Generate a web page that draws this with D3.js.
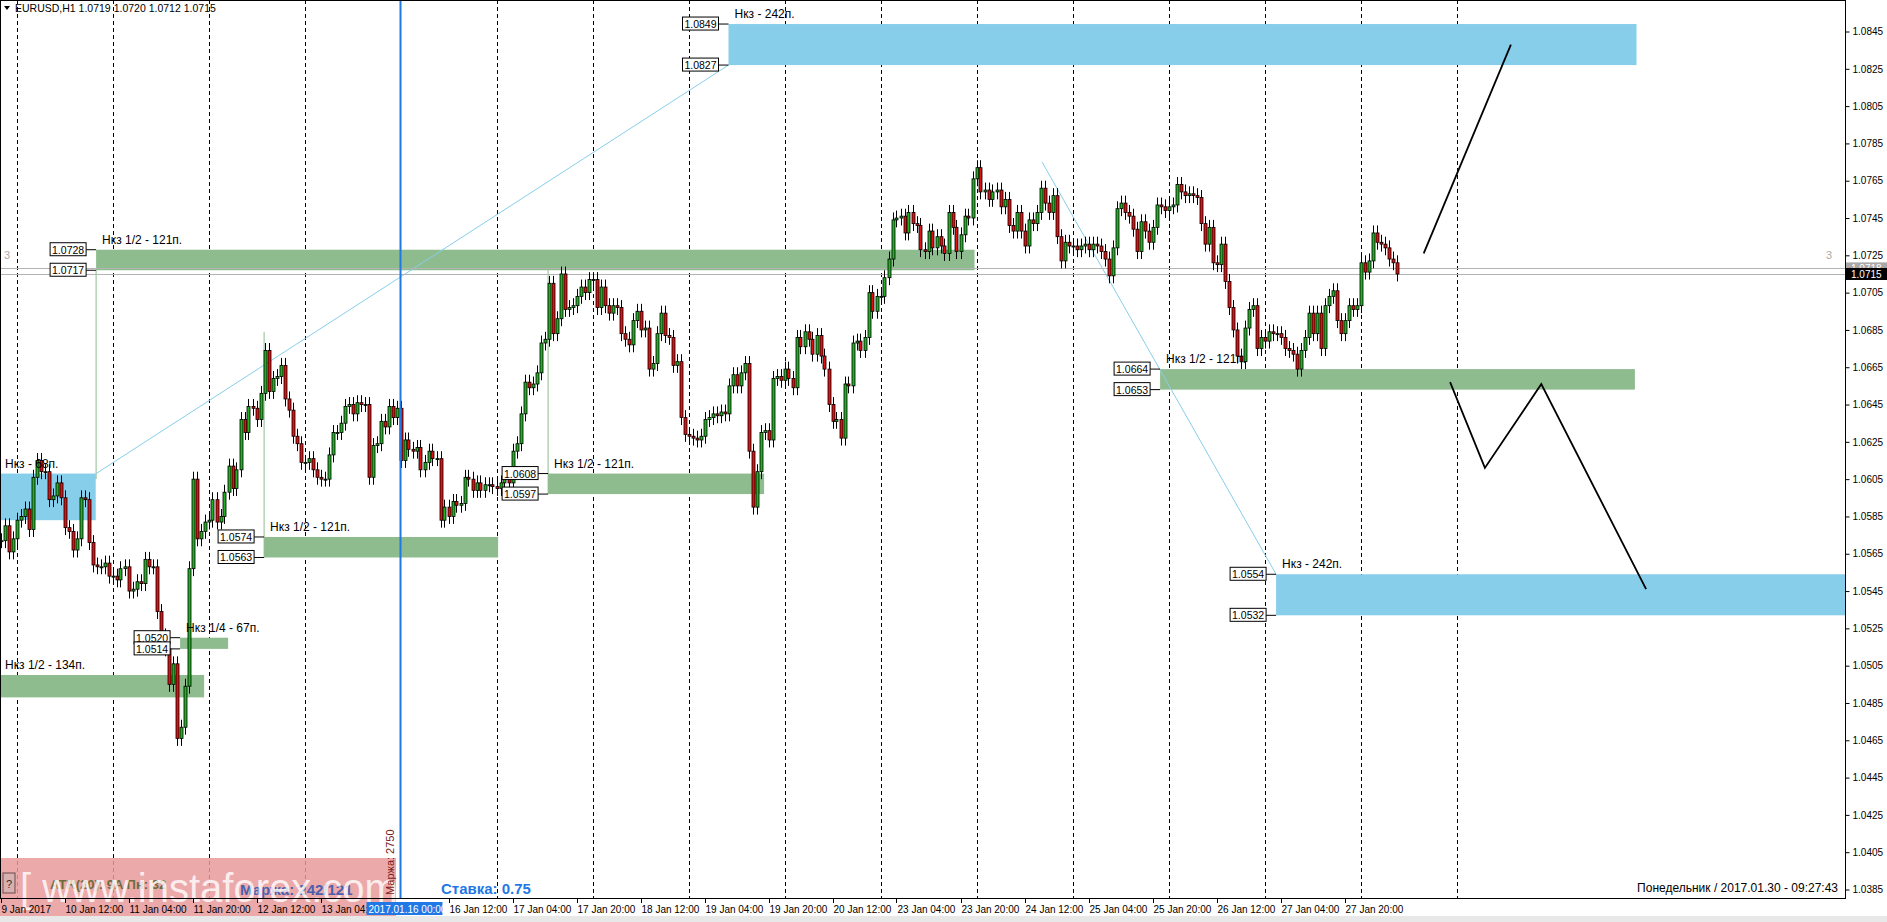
<!DOCTYPE html>
<html>
<head>
<meta charset="utf-8">
<script src="https://cdnjs.cloudflare.com/ajax/libs/d3/7.8.5/d3.min.js"></script>
<style>
  body { margin: 0; background: #fff; }
  svg { display: block; font-family: "Liberation Sans", Arial, sans-serif; }
</style>
</head>
<body>
<svg id="chart" width="1887" height="922"></svg>
<script>
// hourly closes, EURUSD H1, from 9 Jan 20:00 (bar 20) to 30 Jan 09:00
var firstBar = 20;
var closes = [
  1.0572,1.0580,1.0566,1.0573,
  // 10 Jan
  1.0583,1.0585,1.0589,1.0578,1.0606,1.0615,1.0609,1.0609,1.0594,1.0596,1.0603,1.0595,
  1.0579,1.0577,1.0567,1.0573,1.0595,1.0594,1.0571,1.0559,1.0558,1.0558,1.0560,1.0553,
  // 11 Jan
  1.0553,1.0551,1.0557,1.0558,1.0545,1.0546,1.0550,1.0549,1.0562,1.0558,1.0558,1.0534,
  1.0521,1.0514,1.0495,1.0506,1.0466,1.0472,1.0494,1.0557,1.0605,1.0573,1.0577,1.0582,
  // 12 Jan
  1.0583,1.0594,1.0582,1.0585,1.0598,1.0612,1.0600,1.0610,1.0637,1.0630,1.0644,1.0643,
  1.0637,1.0651,1.0674,1.0652,1.0659,1.0660,1.0666,1.0648,1.0642,1.0628,1.0624,1.0614,
  // 13 Jan
  1.0614,1.0616,1.0610,1.0606,1.0605,1.0605,1.0618,1.0630,1.0630,1.0635,1.0644,1.0645,
  1.0640,1.0646,1.0645,1.0645,1.0606,1.0623,1.0624,1.0636,1.0633,1.0644,1.0638,1.0643,
  // 16 Jan
  1.0615,1.0626,1.0621,1.0620,1.0622,1.0610,1.0614,1.0620,1.0616,1.0616,1.0583,1.0590,
  1.0585,1.0593,1.0591,1.0592,1.0606,1.0605,1.0599,1.0603,1.0599,1.0602,1.0602,1.0601,
  // 17 Jan
  1.0600,1.0603,1.0606,1.0603,1.0620,1.0624,1.0640,1.0657,1.0654,1.0656,1.0662,1.0678,
  1.0680,1.0710,1.0683,1.0691,1.0715,1.0696,1.0697,1.0698,1.0703,1.0708,1.0705,1.0712,
  // 18 Jan
  1.0712,1.0697,1.0708,1.0698,1.0694,1.0698,1.0697,1.0683,1.0680,1.0677,1.0690,1.0695,
  1.0685,1.0686,1.0664,1.0667,1.0683,1.0694,1.0682,1.0681,1.0666,1.0668,1.0638,1.0629,
  // 19 Jan
  1.0628,1.0627,1.0626,1.0628,1.0637,1.0638,1.0640,1.0639,1.0641,1.0640,1.0655,1.0661,
  1.0655,1.0662,1.0667,1.0620,1.0590,1.0609,1.0630,1.0631,1.0626,1.0659,1.0660,1.0658,
  // 20 Jan
  1.0664,1.0659,1.0654,1.0681,1.0676,1.0684,1.0680,1.0672,1.0682,1.0671,1.0664,1.0645,
  1.0636,1.0637,1.0627,1.0656,1.0655,1.0678,1.0679,1.0674,1.0681,1.0705,1.0695,1.0703,
  // 23 Jan
  1.0703,1.0713,1.0723,1.0744,1.0745,1.0746,1.0737,1.0748,1.0742,1.0741,1.0728,1.0727,
  1.0738,1.0729,1.0735,1.0730,1.0726,1.0748,1.0740,1.0727,1.0736,1.0746,1.0745,1.0766,
  // 24 Jan
  1.0772,1.0759,1.0760,1.0755,1.0759,1.0760,1.0751,1.0755,1.0741,1.0738,1.0748,1.0738,
  1.0730,1.0744,1.0742,1.0748,1.0761,1.0753,1.0748,1.0757,1.0735,1.0722,1.0732,1.0730,
  // 25 Jan
  1.0730,1.0728,1.0730,1.0731,1.0728,1.0731,1.0730,1.0727,1.0723,1.0714,1.0729,1.0750,
  1.0753,1.0748,1.0746,1.0739,1.0727,1.0743,1.0738,1.0732,1.0740,1.0752,1.0751,1.0749,
  // 26 Jan
  1.0751,1.0752,1.0763,1.0759,1.0757,1.0758,1.0757,1.0756,1.0742,1.0731,1.0740,1.0721,
  1.0720,1.0731,1.0711,1.0697,1.0685,1.0671,1.0668,1.0686,1.0696,1.0698,1.0675,1.0681,
  // 27 Jan
  1.0679,1.0684,1.0683,1.0683,1.0681,1.0675,1.0674,1.0672,1.0664,1.0674,1.0681,1.0694,
  1.0683,1.0694,1.0675,1.0698,1.0703,1.0706,1.0690,1.0683,1.0690,1.0698,1.0696,1.0698,
  // 30 Jan
  1.0721,1.0716,1.0722,1.0737,1.0732,1.0731,1.0729,1.0723,1.0721,1.0715
];
var wick = 0.0004;

// day separators (bar index), the 16 Jan one is the blue marker
var separators = [24,48,72,96,120,144,168,192,216,240,264,288,312,336,360,384];
var markerBar = 120;

var timeTicks = [
  [20,'9 Jan 2017'],[36,'10 Jan 12:00'],[52,'11 Jan 04:00'],[68,'11 Jan 20:00'],
  [84,'12 Jan 12:00'],[100,'13 Jan 04:00'],[132,'16 Jan 12:00'],[148,'17 Jan 04:00'],
  [164,'17 Jan 20:00'],[180,'18 Jan 12:00'],[196,'19 Jan 04:00'],[212,'19 Jan 20:00'],
  [228,'20 Jan 12:00'],[244,'23 Jan 04:00'],[260,'23 Jan 20:00'],[276,'24 Jan 12:00'],
  [292,'25 Jan 04:00'],[308,'25 Jan 20:00'],[324,'26 Jan 12:00'],[340,'27 Jan 04:00'],
  [356,'27 Jan 20:00']
];
var priceTicks = d3.range(1.0385, 1.0846, 0.002);

// zones: [fromBar, toBar, top, bottom, kind, label, showPriceBoxes]
var zones = [
  [202, 429, 1.0849, 1.0827, 'blue', 'Нкз - 242п.', true],
  [43.9, 263.5, 1.0728, 1.0717, 'green', 'Нкз 1/2 - 121п.', true],
  [15, 43.8, 1.0608, 1.0583, 'blue', 'Нкз - 68п.', false],
  [85.9, 144.4, 1.0574, 1.0563, 'green', 'Нкз 1/2 - 121п.', true],
  [156.9, 210.9, 1.0608, 1.0597, 'green', 'Нкз 1/2 - 121п.', true],
  [64.9, 76.9, 1.0520, 1.0514, 'green', 'Нкз 1/4 - 67п.', true],
  [15, 70.9, 1.0500, 1.0488, 'green', 'Нкз 1/2 - 134п.', false],
  [309.9, 428.6, 1.0664, 1.0653, 'green', 'Нкз 1/2 - 121п.', true],
  [338.9, 500, 1.0554, 1.0532, 'blue', 'Нкз - 242п.', true]
];
// thin vertical stems from zone edges: [bar, fromPrice, toPrice]
var stems = [[43.9, 1.0717, 1.0605], [85.9, 1.0563, 1.0684], [156.9, 1.0597, 1.0718]];
// light blue trend lines: [[bar, price], [bar, price]]
var trendLines = [
  [[43.9, 1.0608], [202, 1.0827]],
  [[280.4, 1.0775], [338.9, 1.0554]]
];
// hand-drawn forecast paths
var forecastUp = [[375.8, 1.0726], [397.6, 1.0838]];
var forecastDown = [[382.4, 1.0657], [391.1, 1.0611], [405.2, 1.0656], [431.4, 1.0546]];

var bidPrice = 1.0715, askPrice = 1.0718;

var svg = d3.select('#chart');
var plotRight = 1845, plotBottom = 898;

var x = d3.scaleLinear().domain([24, 120]).range([16.5, 400.5]);
var y = d3.scaleLinear().domain([1.0845, 1.0385]).range([31.5, 889.5]);

svg.append('clipPath').attr('id', 'plot')
  .append('rect').attr('width', plotRight).attr('height', plotBottom);

var plot = svg.append('g').attr('clip-path', 'url(#plot)');

// separators
plot.selectAll('.sep').data(separators.filter(function(d) { return d !== markerBar; }))
  .enter().append('line')
  .attr('x1', function(d) { return Math.round(x(d)) + 0.5; })
  .attr('x2', function(d) { return Math.round(x(d)) + 0.5; })
  .attr('y1', 0).attr('y2', plotBottom)
  .attr('stroke', '#000').attr('stroke-dasharray', '4,3');

// zones
zones.forEach(function(z) {
  var fill = z[4] === 'blue' ? '#87ceeb' : '#8fbc8f';
  plot.append('rect')
    .attr('x', x(z[0])).attr('y', y(z[2]))
    .attr('width', x(z[1]) - x(z[0])).attr('height', y(z[3]) - y(z[2]))
    .attr('fill', fill);
});

stems.forEach(function(s) {
  plot.append('line')
    .attr('x1', x(s[0])).attr('x2', x(s[0]))
    .attr('y1', y(s[1])).attr('y2', y(s[2]))
    .attr('stroke', '#8fbc8f');
});

trendLines.forEach(function(t) {
  plot.append('line')
    .attr('x1', x(t[0][0])).attr('y1', y(t[0][1]))
    .attr('x2', x(t[1][0])).attr('y2', y(t[1][1]))
    .attr('stroke', '#87ceeb');
});

// bid / ask lines
[askPrice, bidPrice].forEach(function(p) {
  plot.append('line').attr('x1', 0).attr('x2', plotRight)
    .attr('y1', Math.round(y(p)) + 0.5).attr('y2', Math.round(y(p)) + 0.5)
    .attr('stroke', '#b4b4b4');
});

// candles
var candles = closes.map(function(c, i) {
  var o = i ? closes[i - 1] : c;
  return { bar: firstBar + i, o: o, c: c,
    h: Math.max(o, c) + wick, l: Math.min(o, c) - wick };
});
var cg = plot.append('g');
cg.selectAll('.wick').data(candles).enter().append('line')
  .attr('x1', function(d) { return Math.round(x(d.bar)) + 0.5; })
  .attr('x2', function(d) { return Math.round(x(d.bar)) + 0.5; })
  .attr('y1', function(d) { return y(d.h); })
  .attr('y2', function(d) { return y(d.l); })
  .attr('stroke', '#000');
cg.selectAll('.body').data(candles).enter().append('rect')
  .attr('x', function(d) { return Math.round(x(d.bar)) - 1; })
  .attr('width', 3)
  .attr('y', function(d) { return y(Math.max(d.o, d.c)); })
  .attr('height', function(d) { return Math.max(1, Math.abs(y(d.o) - y(d.c))); })
  .attr('fill', function(d) { return d.c >= d.o ? '#22b022' : '#e01010'; })
  .attr('stroke', '#000').attr('stroke-width', 0.8);

// forecast
var line = d3.line().x(function(d) { return x(d[0]); }).y(function(d) { return y(d[1]); });
[forecastUp, forecastDown].forEach(function(f) {
  plot.append('path').attr('d', line(f)).attr('fill', 'none')
    .attr('stroke', '#000').attr('stroke-width', 1.8);
});

// zone labels and price boxes
zones.forEach(function(z) {
  var x0 = x(z[0]);
  plot.append('text').attr('x', x0 < 10 ? 5 : x0 + 6).attr('y', y(z[2]) - 6)
    .attr('font-size', 12).attr('fill', '#000').text(z[5]);
  if (!z[6]) return;
  [z[2], z[3]].forEach(function(p) {
    var by = y(p);
    plot.append('line').attr('x1', x0 - 10).attr('x2', x0).attr('y1', by).attr('y2', by)
      .attr('stroke', '#000');
    plot.append('rect').attr('x', x0 - 46).attr('y', by - 7).attr('width', 36).attr('height', 13)
      .attr('fill', '#fff').attr('stroke', '#000');
    plot.append('text').attr('x', x0 - 28).attr('y', by + 4).attr('text-anchor', 'middle')
      .attr('font-size', 10.5).text(p.toFixed(4));
  });
});

// blue marker line
plot.append('line').attr('x1', x(markerBar)).attr('x2', x(markerBar))
  .attr('y1', 0).attr('y2', plotBottom).attr('stroke', '#1f78e6').attr('stroke-width', 2);

// small "3" marks
plot.append('text').attr('x', 4).attr('y', y(1.0725) + 4).attr('font-size', 11).attr('fill', '#aaa').text('3');
plot.append('text').attr('x', 1826).attr('y', y(1.0725) + 4).attr('font-size', 11).attr('fill', '#aaa').text('3');

// title
svg.append('path').attr('d', 'M4,6 L10,6 L7,10 Z').attr('fill', '#000');
svg.append('text').attr('x', 15).attr('y', 12).attr('font-size', 10.5)
  .text('EURUSD,H1  1.0719 1.0720 1.0712 1.0715');

// bottom overlay
var ov = svg.append('g');
ov.append('rect').attr('x', 0).attr('y', 858).attr('width', 396).attr('height', 64)
  .attr('fill', '#e89a9a').attr('opacity', 0.85);
ov.append('rect').attr('x', 3).attr('y', 873).attr('width', 12).attr('height', 20)
  .attr('fill', '#d9b0b0').attr('stroke', '#6a4a4a');
ov.append('text').attr('x', 9).attr('y', 888).attr('text-anchor', 'middle').attr('font-size', 11)
  .attr('fill', '#333').text('?');
ov.append('text').attr('x', 50).attr('y', 889).attr('font-size', 13).attr('font-weight', 'bold')
  .attr('fill', '#6b6b3a').text('ATR(20): 9A  Пн: 32');
ov.append('text').attr('x', 240).attr('y', 895).attr('font-size', 15).attr('font-weight', 'bold')
  .attr('fill', '#4a5fb0').text('Маржа: 242/121');
ov.append('text').attr('x', 20).attr('y', 902).attr('font-size', 40)
  .attr('fill', '#fff').attr('opacity', 0.8).text('[ www.instaforex.com ]');
ov.append('text').attr('transform', 'translate(394,895) rotate(-90)').attr('font-size', 11)
  .attr('fill', '#7a2020').text('Маржа: 2750');
svg.append('text').attr('x', 441).attr('y', 894).attr('font-size', 15).attr('font-weight', 'bold')
  .attr('fill', '#1f78e6').text('Ставка: 0.75');
svg.append('text').attr('x', 1838).attr('y', 892).attr('text-anchor', 'end').attr('font-size', 12)
  .text('Понедельник  /  2017.01.30  -  09:27:43');

// frame
svg.append('rect').attr('x', 0.5).attr('y', 0.5).attr('width', plotRight).attr('height', plotBottom)
  .attr('fill', 'none').attr('stroke', '#000');
svg.append('rect').attr('x', 0).attr('y', 916).attr('width', 1887).attr('height', 6).attr('fill', '#e8e8e8');

// price axis
var yAxis = d3.axisRight(y).tickValues(priceTicks).tickSize(4)
  .tickFormat(function(d) { return d.toFixed(4); });
svg.append('g').attr('transform', 'translate(' + (plotRight + 0.5) + ',0)').call(yAxis)
  .call(function(g) {
    g.select('.domain').remove();
    g.selectAll('text').attr('font-size', 10).attr('font-family', 'Liberation Sans, Arial');
  });
[[askPrice, '#a8a8a8'], [bidPrice, '#000']].forEach(function(a) {
  svg.append('rect').attr('x', plotRight + 1).attr('y', y(a[0]) - 6).attr('width', 41).attr('height', 12)
    .attr('fill', a[1]);
  svg.append('text').attr('x', plotRight + 6).attr('y', y(a[0]) + 4).attr('font-size', 10)
    .attr('fill', '#fff').text(a[0].toFixed(4));
});

// time axis
var xg = svg.append('g');
xg.selectAll('line').data(timeTicks).enter().append('line')
  .attr('x1', function(d) { return Math.round(x(d[0])) + 0.5; })
  .attr('x2', function(d) { return Math.round(x(d[0])) + 0.5; })
  .attr('y1', plotBottom).attr('y2', plotBottom + 5).attr('stroke', '#000');
xg.selectAll('text').data(timeTicks).enter().append('text')
  .attr('x', function(d) { return x(d[0]) + 1; }).attr('y', plotBottom + 15)
  .attr('font-size', 10).text(function(d) { return d[1]; });
xg.append('rect').attr('x', x(markerBar) - 34).attr('y', plotBottom + 4).attr('width', 76).attr('height', 13)
  .attr('fill', '#1f78e6');
xg.append('text').attr('x', x(markerBar) - 32).attr('y', plotBottom + 15).attr('font-size', 10)
  .attr('fill', '#fff').text('2017.01.16 00:00');
</script>
</body>
</html>
